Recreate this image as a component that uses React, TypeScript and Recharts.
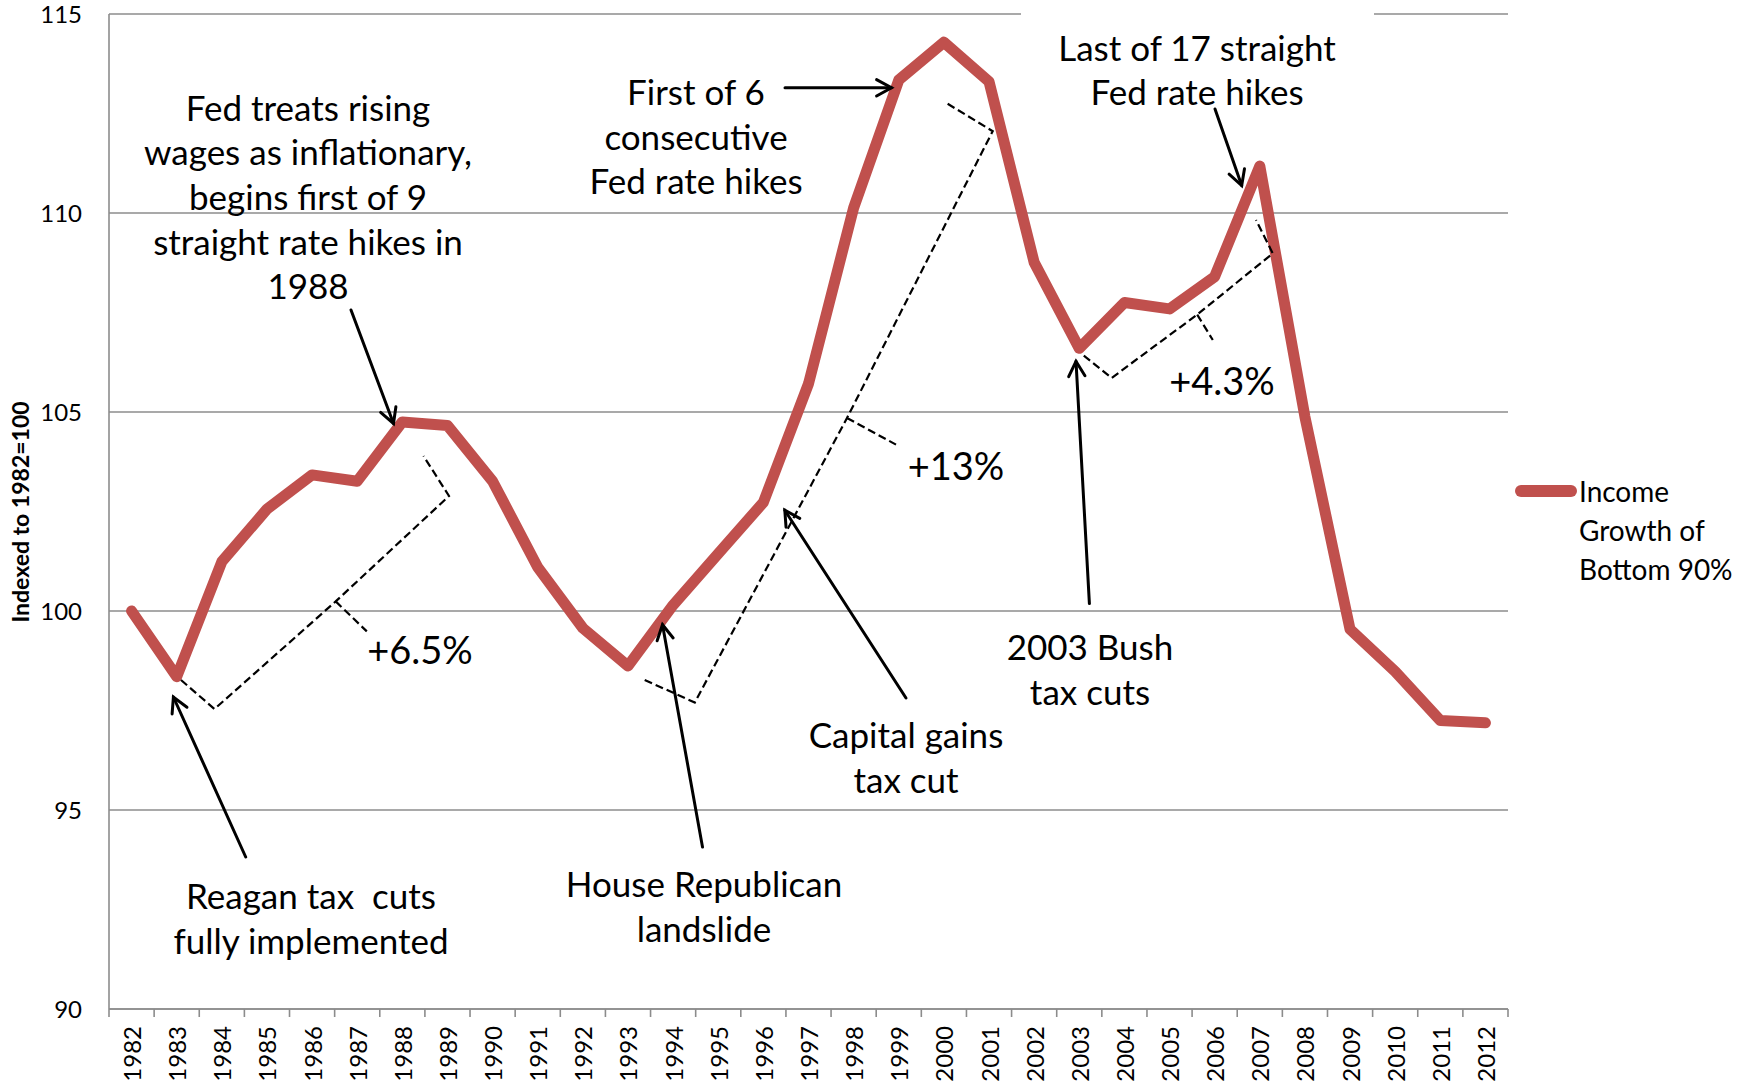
import React from "react";
import { LineChart, Line, XAxis, YAxis, CartesianGrid } from "recharts";

// Real income of the bottom 90%, indexed to 1982 = 100
const years = [
  1982, 1983, 1984, 1985, 1986, 1987, 1988, 1989, 1990, 1991, 1992, 1993,
  1994, 1995, 1996, 1997, 1998, 1999, 2000, 2001, 2002, 2003, 2004, 2005,
  2006, 2007, 2008, 2009, 2010, 2011, 2012,
];
const bottom90 = [
  100.0, 98.35, 101.24, 102.56, 103.42, 103.26, 104.75, 104.66, 103.26,
  101.1, 99.57, 98.62, 100.15, 101.44, 102.73, 105.71, 110.13, 113.34,
  114.29, 113.3, 108.76, 106.6, 107.75, 107.59, 108.4, 111.18, 104.88,
  99.54, 98.48, 97.25, 97.19,
];
const yTicks = [90, 95, 100, 105, 110, 115];
const seriesName = "Income Growth of Bottom 90%";
const legendLines = ["Income", "Growth of", "Bottom 90%"];
const axisTitle = "Indexed to 1982=100";

const data = years.map((year, i) => ({ year, value: bottom90[i] }));

const W = 1743;
const H = 1081;
const PLOT_L = 109;
const PLOT_R = 1508;
const PLOT_T = 14;
const PLOT_B = 1009;
const BAND = (PLOT_R - PLOT_L) / years.length;

const RED = "#C0504D";
const GRID = "#8c8c8c";
const FONT = "Lato, 'Open Sans', sans-serif";

function YearTick({ x, y, payload }: any) {
  const axisY = y - 8;
  const left = x - BAND / 2;
  const isLast = payload.value === years[years.length - 1];
  const ly = axisY + 17;
  return (
    <g>
      <line x1={left} x2={left} y1={axisY} y2={axisY + 8} stroke={GRID} strokeWidth={1.6} />
      {isLast && (
        <line x1={x + BAND / 2} x2={x + BAND / 2} y1={axisY} y2={axisY + 8} stroke={GRID} strokeWidth={1.6} />
      )}
      <text
        x={x}
        y={ly}
        transform={`rotate(-90 ${x} ${ly})`}
        textAnchor="end"
        dominantBaseline="central"
        fontFamily={FONT}
        fontSize={24}
        fill="#000"
      >
        {payload.value}
      </text>
    </g>
  );
}

// callouts: text blocks, arrows and dashed braces
const notes = [
  { x: 308, y: 106.7, lines: ["Fed treats rising", "wages as inflationary,", "begins first of 9", "straight rate hikes in", "1988"] },
  { x: 696, y: 91, lines: ["First of 6", "consecutive", "Fed rate hikes"] },
  { x: 1197, y: 46.7, lines: ["Last of 17 straight", "Fed rate hikes"] },
  { x: 311, y: 895, lines: ["Reagan tax  cuts", "fully implemented"] },
  { x: 704, y: 883, lines: ["House Republican", "landslide"] },
  { x: 906, y: 734, lines: ["Capital gains", "tax cut"] },
  { x: 1090, y: 646, lines: ["2003 Bush", "tax cuts"] },
];

const changes = [
  { x: 420, y: 649, text: "+6.5%" },
  { x: 956, y: 465, text: "+13%" },
  { x: 1222, y: 380, text: "+4.3%" },
];

const arrows = [
  [351, 310, 393.5, 423.5],
  [785, 87.8, 891.5, 87.8],
  [1215, 109, 1241.7, 185.6],
  [245.7, 857, 173.4, 697],
  [702.5, 847, 662.5, 624.7],
  [906, 698, 784.8, 510.2],
  [1089.4, 603.6, 1076, 361.3],
];

// start, corner, middle, corner, end, tip
const braces = [
  [[181, 680], [214.5, 709], [335.7, 601.4], [449, 496], [423.5, 456], [366.8, 631.4]],
  [[644.7, 680], [694.8, 702.5], [847, 418], [992.7, 131.2], [947, 103.4], [896, 444.6]],
  [[1083.8, 355.7], [1111.6, 378], [1197.2, 314.6], [1272.8, 253.4], [1256, 220], [1212.8, 340]],
];

function Arrow({ a }: { a: number[] }) {
  const [x1, y1, x2, y2] = a;
  const ang = Math.atan2(y2 - y1, x2 - x1);
  const len = 17;
  const spread = 0.5;
  const h1 = [x2 - len * Math.cos(ang - spread), y2 - len * Math.sin(ang - spread)];
  const h2 = [x2 - len * Math.cos(ang + spread), y2 - len * Math.sin(ang + spread)];
  return (
    <g stroke="#000" strokeWidth={3} fill="none" strokeLinecap="round">
      <line x1={x1} y1={y1} x2={x2} y2={y2} />
      <polyline points={`${h1[0]},${h1[1]} ${x2},${y2} ${h2[0]},${h2[1]}`} strokeLinejoin="miter" />
    </g>
  );
}

function Brace({ p }: { p: number[][] }) {
  const [s, c1, m, c2, e, t] = p;
  const d = `M${s[0]},${s[1]} L${c1[0]},${c1[1]} L${m[0]},${m[1]} L${c2[0]},${c2[1]} L${e[0]},${e[1]} M${m[0]},${m[1]} L${t[0]},${t[1]}`;
  return <path d={d} fill="none" stroke="#000" strokeWidth={2.2} strokeDasharray="8 4" />;
}

function Overlay() {
  return (
    <svg
      width={W}
      height={H}
      style={{ position: "absolute", left: 0, top: 0, pointerEvents: "none" }}
    >
      {/* filled box behind the 2007 callout */}
      <rect x={1021} y={0} width={353} height={104} fill="#fff" />
      <text
        x={20}
        y={512}
        transform="rotate(-90 20 512)"
        textAnchor="middle"
        dominantBaseline="central"
        fontFamily={FONT}
        fontWeight="bold"
        fontSize={23}
      >
        {axisTitle}
      </text>
      {notes.map((n, i) => (
        <g key={i}>
          {n.lines.map((l, j) => (
            <text
              key={j}
              x={n.x}
              y={n.y + j * 44.6}
              textAnchor="middle"
              dominantBaseline="central"
              fontFamily={FONT}
              fontSize={35}
              style={{ whiteSpace: "pre" }}
            >
              {l}
            </text>
          ))}
        </g>
      ))}
      {changes.map((c, i) => (
        <text
          key={i}
          x={c.x}
          y={c.y}
          textAnchor="middle"
          dominantBaseline="central"
          fontFamily={FONT}
          fontSize={38}
        >
          {c.text}
        </text>
      ))}
      {arrows.map((a, i) => (
        <Arrow key={i} a={a} />
      ))}
      {braces.map((b, i) => (
        <Brace key={i} p={b} />
      ))}
      {/* legend */}
      <line x1={1521} y1={491} x2={1571} y2={491} stroke={RED} strokeWidth={12} strokeLinecap="round" />
      {legendLines.map((l, i) => (
        <text
          key={i}
          x={1579}
          y={491 + i * 39}
          dominantBaseline="central"
          fontFamily={FONT}
          fontSize={28}
        >
          {l}
        </text>
      ))}
    </svg>
  );
}

export default function App(): React.ReactElement {
  return (
    <div style={{ position: "absolute", left: 0, top: 0, width: W, height: H, background: "#fff" }}>
      <LineChart
        width={W}
        height={H}
        data={data}
        margin={{ top: PLOT_T, right: W - PLOT_R, bottom: 0, left: 0 }}
      >
        <CartesianGrid vertical={false} stroke={GRID} strokeWidth={1.6} />
        <XAxis
          dataKey="year"
          type="number"
          domain={[years[0] - 0.5, years[years.length - 1] + 0.5]}
          ticks={years}
          interval={0}
          height={H - PLOT_B}
          axisLine={{ stroke: GRID, strokeWidth: 1.6 }}
          tickLine={false}
          tickSize={8}
          tickMargin={0}
          tick={<YearTick />}
        />
        <YAxis
          domain={[90, 115]}
          ticks={yTicks}
          interval={0}
          width={PLOT_L}
          axisLine={{ stroke: GRID, strokeWidth: 1.6 }}
          tickLine={false}
          tickSize={0}
          tickMargin={27}
          tick={{ fontFamily: FONT, fontSize: 24, fill: "#000" }}
        />
        <Line
          name={seriesName}
          dataKey="value"
          stroke={RED}
          strokeWidth={11}
          strokeLinecap="round"
          strokeLinejoin="round"
          dot={false}
          activeDot={false}
          isAnimationActive={false}
        />
      </LineChart>
      <Overlay />
    </div>
  );
}
